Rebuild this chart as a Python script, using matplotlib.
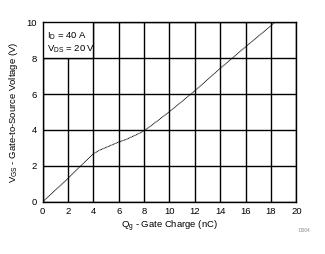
import matplotlib.pyplot as plt
from matplotlib.patches import Rectangle

plt.rcParams['font.family'] = ['Liberation Sans', 'DejaVu Sans']

# gate charge curve
qg = [0, 1, 2, 3, 4, 4.5, 5, 6, 6.6, 7.4, 8, 9, 10, 12, 14, 16, 18, 18.3]
vgs = [0, 0.65, 1.3, 2.0, 2.68, 2.88, 3.03, 3.33, 3.48, 3.74, 3.95, 4.48, 5.02, 6.18, 7.43, 8.63, 9.8, 10.0]

x_ticks = list(range(0, 21, 2))
y_ticks = list(range(0, 11, 2))

fig = plt.figure(figsize=(3.25, 2.54), dpi=100)
ax = fig.add_axes([0.131, 0.205, 0.781, 0.708])

ax.plot(qg, vgs, color='black', lw=0.7, ls=(0, (1, 0.5)), zorder=3)

ax.set_xlim(0, 20)
ax.set_ylim(0, 10)
ax.set_xticks(x_ticks)
ax.set_yticks(y_ticks)
ax.grid(True, color='black', lw=1.0)
ax.tick_params(length=0, labelsize=6.8, pad=4)
for s in ax.spines.values():
	s.set_linewidth(1.0)

# legend box sitting in the upper left grid cell
ax.add_patch(Rectangle((0, 8), 4, 2, facecolor='white', edgecolor='black', lw=1.0, zorder=4))
ax.text(0.35, 9.6, '$\\mathregular{I_D}$ = 40 A\n$\\mathregular{V_{DS}}$ = 20 V', fontsize=6.8,
	va='top', ha='left', linespacing=1.25, zorder=5)

ax.set_xlabel('$\\mathregular{Q_g}$ - Gate Charge (nC)', fontsize=6.8, labelpad=2)
ax.set_ylabel('$\\mathregular{V_{GS}}$ - Gate-to-Source Voltage (V)', fontsize=6.8, labelpad=5)

fig.text(0.955, 0.085, 'D004', fontsize=3.5, color='#888888', ha='right')

fig.savefig('out.png', dpi=100)
